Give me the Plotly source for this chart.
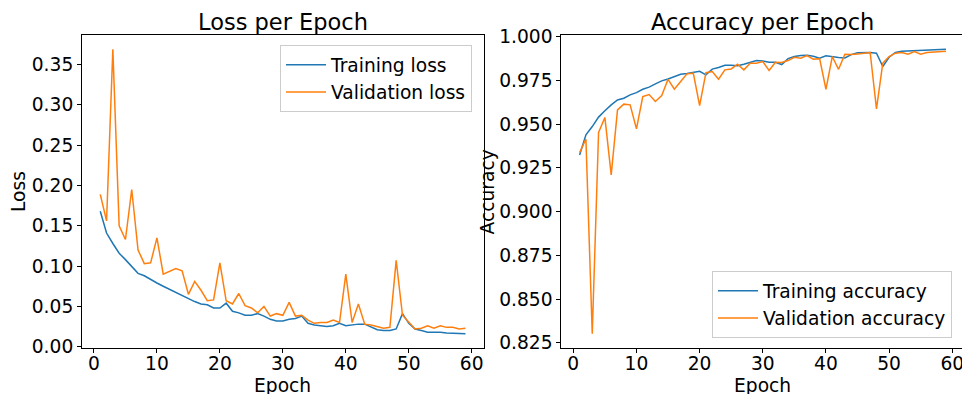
import plotly.graph_objects as go

epochs = list(range(1, 60))

train_loss = [0.168, 0.141, 0.128, 0.116, 0.108, 0.099, 0.091, 0.088, 0.083, 0.079,
              0.075, 0.071, 0.067, 0.063, 0.059, 0.056, 0.053, 0.052, 0.048, 0.048,
              0.054, 0.044, 0.042, 0.039, 0.039, 0.041, 0.038, 0.034, 0.032, 0.032,
              0.034, 0.035, 0.038, 0.029, 0.027, 0.026, 0.025, 0.026, 0.029, 0.026,
              0.027, 0.028, 0.028, 0.024, 0.021, 0.020, 0.020, 0.022, 0.041, 0.029,
              0.022, 0.020, 0.018, 0.018, 0.018, 0.017, 0.0166, 0.016, 0.016]

val_loss = [0.189, 0.156, 0.369, 0.150, 0.133, 0.195, 0.120, 0.103, 0.104, 0.135,
            0.090, 0.094, 0.097, 0.094, 0.065, 0.081, 0.070, 0.057, 0.058, 0.104,
            0.057, 0.053, 0.066, 0.051, 0.048, 0.042, 0.050, 0.038, 0.041, 0.039,
            0.055, 0.038, 0.039, 0.033, 0.029, 0.030, 0.030, 0.033, 0.030, 0.090,
            0.030, 0.053, 0.028, 0.027, 0.025, 0.023, 0.024, 0.107, 0.039, 0.030,
            0.022, 0.023, 0.026, 0.023, 0.026, 0.024, 0.024, 0.022, 0.023]

train_acc = [0.9324, 0.9439, 0.9486, 0.9540, 0.9576, 0.9610, 0.9638, 0.9648, 0.9667, 0.9680,
             0.9699, 0.9711, 0.9730, 0.9747, 0.9758, 0.9772, 0.9785, 0.9789, 0.9796, 0.9802,
             0.9781, 0.9814, 0.9823, 0.9836, 0.9836, 0.9833, 0.9842, 0.9853, 0.9863, 0.9861,
             0.9853, 0.9853, 0.9840, 0.9874, 0.9886, 0.9892, 0.9893, 0.9888, 0.9876, 0.9890,
             0.9884, 0.9880, 0.9878, 0.9897, 0.9907, 0.9909, 0.9909, 0.9905, 0.9829, 0.9882,
             0.9909, 0.9916, 0.9918, 0.9918, 0.9920, 0.9924, 0.9926, 0.9928, 0.9928]

val_acc = [0.9338, 0.9414, 0.8302, 0.9452, 0.9538, 0.9210, 0.9581, 0.9614, 0.9610, 0.9473,
           0.9657, 0.9669, 0.9629, 0.9663, 0.9756, 0.9699, 0.9743, 0.9787, 0.9791, 0.9606,
           0.9794, 0.9800, 0.9756, 0.9810, 0.9815, 0.9842, 0.9810, 0.9848, 0.9848, 0.9857,
           0.9806, 0.9853, 0.9852, 0.9863, 0.9882, 0.9876, 0.9892, 0.9871, 0.9874, 0.9699,
           0.9886, 0.9813, 0.9899, 0.9897, 0.9901, 0.9905, 0.9909, 0.9587, 0.9848, 0.9886,
           0.9905, 0.9909, 0.9899, 0.9914, 0.9899, 0.9909, 0.9912, 0.9916, 0.9916]

loss_ticks = [0.00, 0.05, 0.10, 0.15, 0.20, 0.25, 0.30, 0.35]
acc_ticks = [0.825, 0.850, 0.875, 0.900, 0.925, 0.950, 0.975, 1.000]
epoch_ticks = [0, 10, 20, 30, 40, 50, 60]

BLUE = "#1f77b4"
ORANGE = "#ff7f0e"
FONT = "DejaVu Sans"
FS = 18.67
TS = 22.5
W, H = 962, 394

fig = go.Figure()
fig.add_trace(go.Scatter(x=epochs, y=train_loss, mode="lines", name="Training loss",
                         line=dict(color=BLUE, width=1.5), xaxis="x", yaxis="y",
                         legend="legend", legendgroup="a"))
fig.add_trace(go.Scatter(x=epochs, y=val_loss, mode="lines", name="Validation loss",
                         line=dict(color=ORANGE, width=1.5), xaxis="x", yaxis="y",
                         legend="legend", legendgroup="b"))
fig.add_trace(go.Scatter(x=epochs, y=train_acc, mode="lines", name="Training accuracy",
                         line=dict(color=BLUE, width=1.5), xaxis="x2", yaxis="y2",
                         legend="legend2", legendgroup="c"))
fig.add_trace(go.Scatter(x=epochs, y=val_acc, mode="lines", name="Validation accuracy",
                         line=dict(color=ORANGE, width=1.5), xaxis="x2", yaxis="y2",
                         legend="legend2", legendgroup="d"))

def px_x(p):
    return p / W

def px_y(p):
    return 1 - p / H

ax_common = dict(showline=True, linecolor="black", linewidth=1, mirror=True,
                 ticks="outside", ticklen=4, tickwidth=1, tickcolor="black",
                 showgrid=False, zeroline=False, automargin=False,
                 ticklabeloverflow="allow",
                 tickfont=dict(family=FONT, size=FS, color="black"))

ydom = [px_y(348), px_y(35)]

leg_common = dict(bgcolor="rgba(255,255,255,0.8)", bordercolor="#cccccc", borderwidth=1,
                  tracegroupgap=0, itemwidth=40,
                  font=dict(family=FONT, size=FS, color="black"))

fig.update_layout(
    width=W, height=H,
    margin=dict(l=0, r=0, t=0, b=0),
    paper_bgcolor="white", plot_bgcolor="white",
    font=dict(family=FONT, color="black"),
    xaxis=dict(domain=[px_x(82), px_x(483.7)], range=[-1.9, 61.9],
               tickvals=epoch_ticks, ticktext=[str(t) for t in epoch_ticks], anchor="y",
               ticklabelstandoff=-5, **ax_common),
    yaxis=dict(domain=ydom, range=[-0.0016, 0.3866],
               tickvals=loss_ticks, ticktext=[f"{t:.2f}" for t in loss_ticks], anchor="x", **ax_common),
    xaxis2=dict(domain=[px_x(561.3), 1.0], range=[-1.9, 61.54],
                tickvals=epoch_ticks, ticktext=[str(t) for t in epoch_ticks], anchor="y2",
                ticklabelstandoff=-5, **ax_common),
    yaxis2=dict(domain=ydom, range=[0.8221, 1.0009],
                tickvals=acc_ticks, ticktext=[f"{t:.3f}" for t in acc_ticks], anchor="x2", **ax_common),
    legend=dict(x=px_x(472), y=px_y(45), xanchor="right", yanchor="top", **leg_common),
    legend2=dict(x=px_x(952), y=px_y(338), xanchor="right", yanchor="bottom", **leg_common),
    showlegend=True,
)

annos = [
    dict(text="Loss per Epoch", x=px_x(282.8), y=px_y(7), xanchor="center", yanchor="top", size=TS, angle=0),
    dict(text="Accuracy per Epoch", x=px_x(762.8), y=px_y(7), xanchor="center", yanchor="top", size=TS, angle=0),
    dict(text="Epoch", x=px_x(282.8), y=px_y(373), xanchor="center", yanchor="top", size=FS, angle=0),
    dict(text="Epoch", x=px_x(762.8), y=px_y(373), xanchor="center", yanchor="top", size=FS, angle=0),
    dict(text="Loss", x=px_x(18.5), y=px_y(191.5), xanchor="center", yanchor="middle", size=FS, angle=-90),
    dict(text="Accuracy", x=px_x(487), y=px_y(191.5), xanchor="center", yanchor="middle", size=FS, angle=-90),
]
for a in annos:
    fig.add_annotation(text=a["text"], x=a["x"], y=a["y"], xref="paper", yref="paper",
                       xanchor=a["xanchor"], yanchor=a["yanchor"], textangle=a["angle"],
                       showarrow=False, font=dict(family=FONT, size=a["size"], color="black"))

fig.write_html("out.html")
